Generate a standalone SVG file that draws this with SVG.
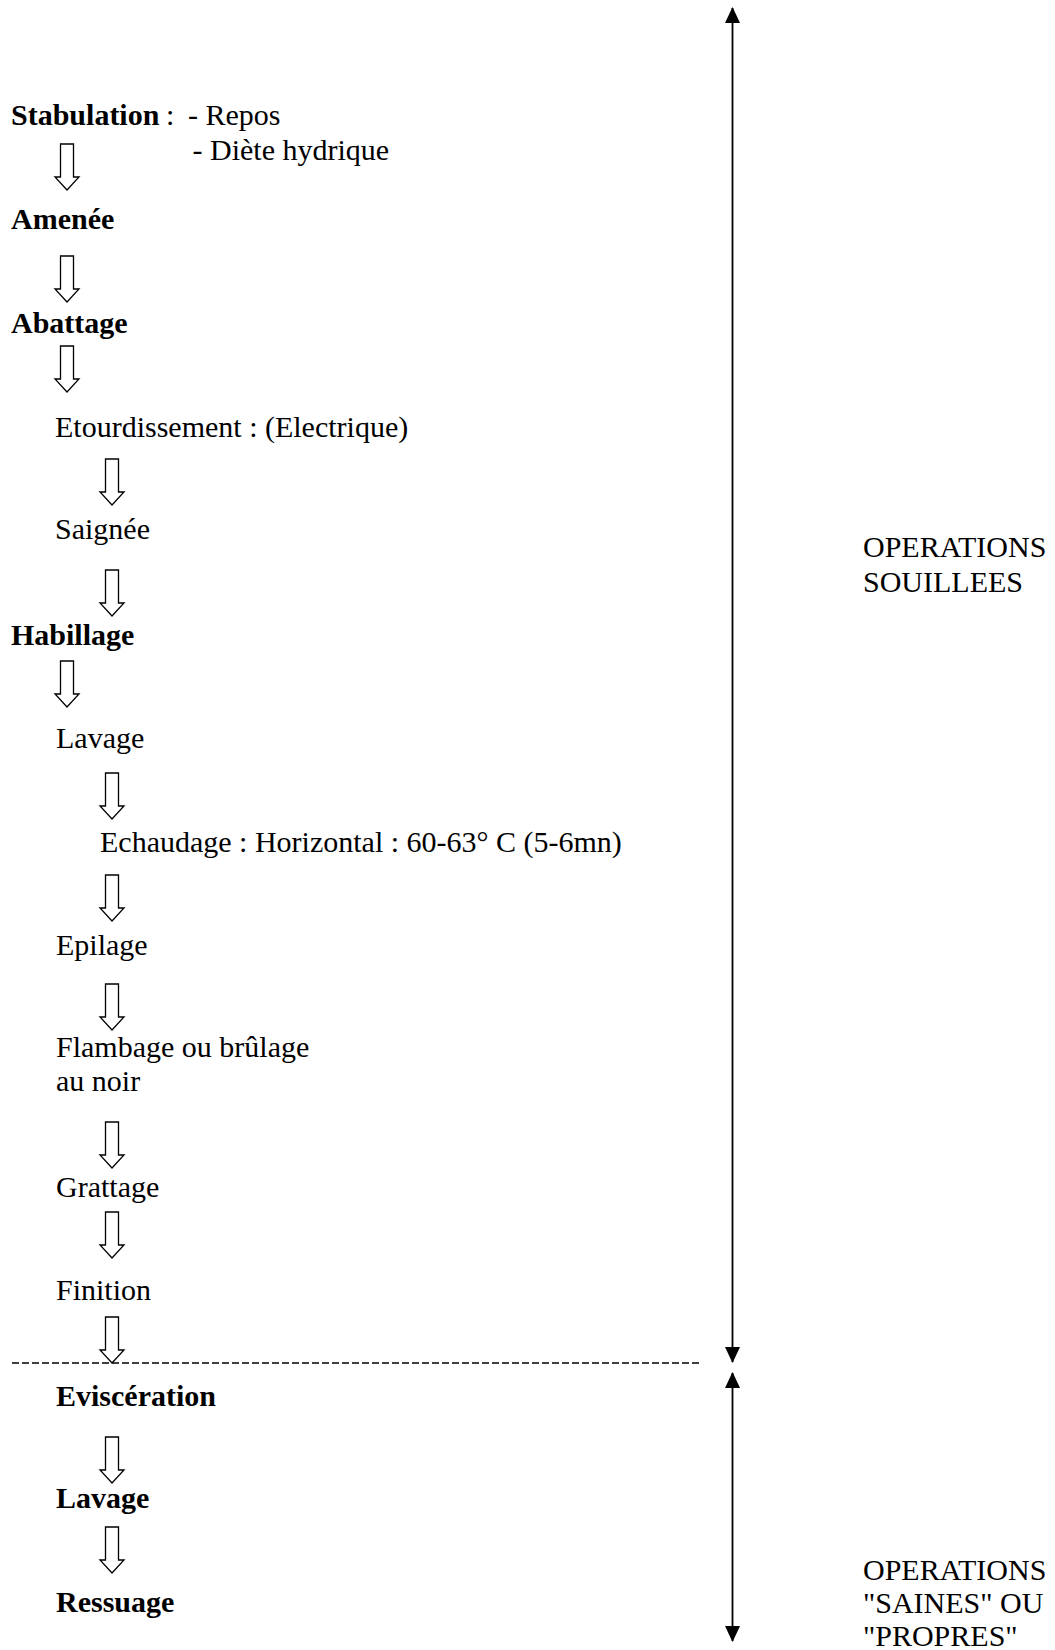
<svg xmlns="http://www.w3.org/2000/svg" width="1055" height="1650" viewBox="0 0 1055 1650">
<style>
text{font-family:"Liberation Serif","Times New Roman",serif;font-size:30px;fill:#000}
.b{font-weight:bold}
.arr{fill:#fff;stroke:#000;stroke-width:1.3;stroke-linejoin:miter}
.vl{stroke:#000;stroke-width:1.8;fill:none}
.dash{stroke:#000;stroke-width:1.6;stroke-dasharray:7 3;fill:none}
</style>
<defs>
<marker id="ah" viewBox="0 0 16 16" refX="15" refY="8" markerWidth="16" markerHeight="16" markerUnits="userSpaceOnUse" orient="auto-start-reverse">
<path d="M0,0.5 L16,8 L0,15.5 Z" fill="#000"/>
</marker>
<path id="da" class="arr" d="M-6.5,0 V33 H-12 L0,46 L12,33 H6.5 V0 Z"/>
</defs>
<rect width="1055" height="1650" fill="#fff"/>

<g id="connectors">
<use href="#da" x="67" y="144"/>
<use href="#da" x="67" y="256"/>
<use href="#da" x="67" y="346"/>
<use href="#da" x="112" y="459"/>
<use href="#da" x="112" y="570"/>
<use href="#da" x="67" y="661"/>
<use href="#da" x="112" y="773"/>
<use href="#da" x="112" y="875"/>
<use href="#da" x="112" y="984"/>
<use href="#da" x="112" y="1122"/>
<use href="#da" x="112" y="1212"/>
<use href="#da" x="112" y="1317"/>
<use href="#da" x="112" y="1437"/>
<use href="#da" x="112" y="1527"/>
<line class="dash" x1="12" y1="1363" x2="700" y2="1363"/>
<line class="vl" x1="732.5" y1="1362" x2="732.5" y2="8" marker-start="url(#ah)" marker-end="url(#ah)"/>
<line class="vl" x1="732.5" y1="1373" x2="732.5" y2="1641" marker-start="url(#ah)" marker-end="url(#ah)"/>
</g>

<g id="n-stabulation">
<text class="b" x="11" y="125">Stabulation</text>
<text x="166" y="125">:</text>
<text x="188" y="125">- Repos</text>
<text x="192.5" y="159.5">- Diète hydrique</text>
</g>
<g id="n-amenee"><text class="b" x="11" y="228.5">Amenée</text></g>
<g id="n-abattage"><text class="b" x="11" y="333">Abattage</text></g>
<g id="n-etourdissement"><text x="55" y="437">Etourdissement : (Electrique)</text></g>
<g id="n-saignee"><text x="55" y="538.5">Saignée</text></g>
<g id="n-habillage"><text class="b" x="11" y="645">Habillage</text></g>
<g id="n-lavage1"><text x="56" y="748">Lavage</text></g>
<g id="n-echaudage"><text x="100" y="852">Echaudage : Horizontal : 60-63° C (5-6mn)</text></g>
<g id="n-epilage"><text x="56" y="955">Epilage</text></g>
<g id="n-flambage"><text x="56" y="1057">Flambage ou brûlage</text><text x="56" y="1091">au noir</text></g>
<g id="n-grattage"><text x="56" y="1196.5">Grattage</text></g>
<g id="n-finition"><text x="56" y="1300">Finition</text></g>
<g id="n-evisceration"><text class="b" x="56" y="1406">Eviscération</text></g>
<g id="n-lavage2"><text class="b" x="56" y="1508">Lavage</text></g>
<g id="n-ressuage"><text class="b" x="56" y="1611.5">Ressuage</text></g>

<g id="label-souillees">
<text x="863" y="557">OPERATIONS</text>
<text x="863" y="592">SOUILLEES</text>
</g>
<g id="label-saines">
<text x="863" y="1580">OPERATIONS</text>
<text x="863" y="1613">"SAINES" OU</text>
<text x="863" y="1646">"PROPRES"</text>
</g>
</svg>
